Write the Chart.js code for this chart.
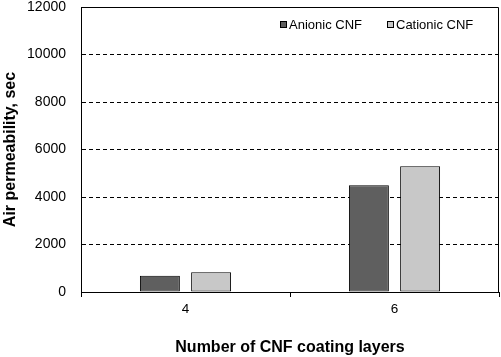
<!DOCTYPE html>
<html><head><meta charset="utf-8">
<script src="https://cdn.jsdelivr.net/npm/chart.js@4"></script>
<style>html,body{margin:0;padding:0;background:#fff}#wrap{width:501px;height:357px;position:relative}</style>
</head><body><div id="wrap"><canvas id="c" width="501" height="357"></canvas></div>
<script>
const categories = ['4', '6'];
const anionicCNF = [680, 4500];
const cationicCNF = [830, 5300];
const seriesNames = ['Anionic CNF', 'Cationic CNF'];
const seriesColors = ['#5f5f5f', '#c8c8c8'];
const yMin = 0, yMax = 12000, yStep = 2000;
const xTitle = 'Number of CNF coating layers';
const yTitle = 'Air permeability, sec';

const FONT = "'Liberation Sans', Arial, sans-serif";

const frameAndLegend = {
  id: 'frameAndLegend',
  afterDraw(chart) {
    const ctx = chart.ctx, a = chart.chartArea;
    ctx.save();
    ctx.strokeStyle = '#000';
    ctx.lineWidth = 1;
    ctx.beginPath();
    const t = Math.round(a.top) + 0.5, r = Math.round(a.right) - 0.5;
    ctx.moveTo(Math.round(a.left), t);
    ctx.lineTo(r, t);
    ctx.lineTo(r, Math.round(a.bottom));
    ctx.stroke();
    // legend
    const itemX = [280, 387];
    ctx.font = '13px ' + FONT;
    ctx.textBaseline = 'middle';
    ctx.textAlign = 'left';
    chart.data.datasets.forEach((ds, i) => {
      const x = itemX[i], y = 21;
      ctx.fillStyle = ds.backgroundColor;
      ctx.fillRect(x, y, 7, 7);
      ctx.strokeStyle = '#000';
      ctx.strokeRect(x + 0.5, y + 0.5, 6, 6);
      ctx.fillStyle = '#000';
      ctx.fillText(ds.label, x + 9, 25);
    });
    ctx.restore();
  }
};

new Chart(document.getElementById('c'), {
  type: 'bar',
  data: {
    labels: categories,
    datasets: [
      { label: seriesNames[0], data: anionicCNF, backgroundColor: seriesColors[0], borderColor: '#000', borderWidth: 1, borderSkipped: false },
      { label: seriesNames[1], data: cationicCNF, backgroundColor: seriesColors[1], borderColor: '#000', borderWidth: 1, borderSkipped: false }
    ]
  },
  options: {
    responsive: false,
    animation: false,
    devicePixelRatio: 1,
    categoryPercentage: 0.49,
    barPercentage: 0.78,
    layout: { padding: { top: 7, right: 2, left: 0, bottom: 0 } },
    plugins: { legend: { display: false }, tooltip: { enabled: false } },
    scales: {
      x: {
        afterFit: s => { s.height = 65; s.paddingLeft = 0; s.paddingRight = 0; },
        grid: { offset: true, drawOnChartArea: false, drawTicks: true, tickLength: 5, color: '#000', lineWidth: 1 },
        border: { display: true, color: '#000', width: 1 },
        ticks: { color: '#000', padding: 4, font: { family: FONT, size: 13.5 } },
        title: { display: true, text: xTitle, color: '#000', padding: { top: 0, bottom: 0 }, font: { family: FONT, size: 16, weight: 'bold' } }
      },
      y: {
        min: yMin, max: yMax,
        afterFit: s => { s.width = 81; s.paddingTop = 0; s.paddingBottom = 0; },
        grid: {
          drawTicks: false, tickLength: 0, lineWidth: 1,
          color: c => (c.tick && (c.tick.value === yMin || c.tick.value === yMax)) ? 'rgba(0,0,0,0)' : '#000'
        },
        border: { display: true, color: '#000', width: 1, dash: [4, 3] },
        ticks: { stepSize: yStep, color: '#000', padding: 15, font: { family: FONT, size: 14 }, callback: v => String(v) },
        title: { display: true, text: yTitle, color: '#000', padding: { top: 1, bottom: 0 }, font: { family: FONT, size: 16, weight: 'bold' } }
      }
    }
  },
  plugins: [frameAndLegend]
});
</script></body></html>
